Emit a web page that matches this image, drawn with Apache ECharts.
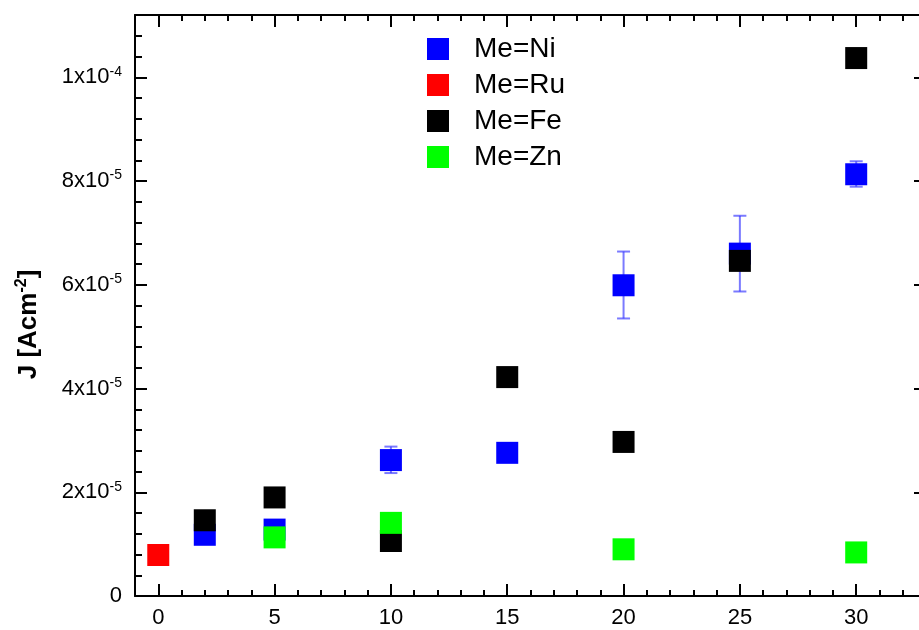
<!DOCTYPE html>
<html>
<head>
<meta charset="utf-8">
<script src="https://cdn.jsdelivr.net/npm/echarts@6/dist/echarts.min.js"></script>
<style>html,body{margin:0;padding:0;background:#fff;}#c{width:919px;height:630px;}</style>
</head>
<body>
<div id="c"></div>
<script>
// ---- data ----
var niX = [2, 5, 10, 15, 20, 25, 30];
var niY = [1.18e-5, 1.28e-5, 2.62e-5, 2.76e-5, 5.99e-5, 6.60e-5, 8.13e-5];
var ruX = [0];
var ruY = [7.9e-6];
var feX = [2, 5, 10, 15, 20, 25, 30];
var feY = [1.46e-5, 1.90e-5, 1.06e-5, 4.22e-5, 2.97e-5, 6.46e-5, 1.037e-4];
var znX = [5, 10, 20, 30];
var znY = [1.13e-5, 1.41e-5, 0.90e-5, 0.84e-5];
// Ni error bars: x, low, high
var niErrX = [10, 20, 25, 30];
var niErrLow = [2.37e-5, 5.35e-5, 5.87e-5, 7.89e-5];
var niErrHigh = [2.88e-5, 6.64e-5, 7.33e-5, 8.38e-5];
var seriesNames = ['Me=Ni', 'Me=Ru', 'Me=Fe', 'Me=Zn'];
var xTickValues = [0, 5, 10, 15, 20, 25, 30];
var xMinorTickValues = [-1,0,1,2,3,4,5,6,7,8,9,10,11,12,13,14,15,16,17,18,19,20,21,22,23,24,25,26,27,28,29,30,31,32];
var yTickValues = [0, 2e-5, 4e-5, 6e-5, 8e-5, 1e-4];
var yTickLabels = ['0', '2x10{sup|-5}', '4x10{sup|-5}', '6x10{sup|-5}', '8x10{sup|-5}', '1x10{sup|-4}'];
var yMinorTickValues = [0.4e-5,0.8e-5,1.2e-5,1.6e-5,2.4e-5,2.8e-5,3.2e-5,3.6e-5,4.4e-5,4.8e-5,5.2e-5,5.6e-5,6.4e-5,6.8e-5,7.2e-5,7.6e-5,8.4e-5,8.8e-5,9.2e-5,9.6e-5,1.04e-4,1.08e-4];
var xMin = -1, xMax = 33, yMin = 0, yMax = 1.12e-4;
var yTitle = 'J [Acm{sup|-2}]';

function zip(a, b) { return a.map(function (v, i) { return [v, b[i]]; }); }

var FONT = 'Liberation Sans, Arial, sans-serif';
var lineStyle = { color: '#000', width: 2 };

function xAxisDef(pos, major, showLine) {
  return {
    type: 'value', position: pos, min: xMin, max: xMax,
    axisLine: { show: showLine, onZero: false, lineStyle: lineStyle },
    axisTick: { show: true, inside: true, length: major ? 12 : 6, lineStyle: lineStyle,
      customValues: major ? xTickValues : xMinorTickValues },
    axisLabel: (pos === 'bottom' && major) ? {
      show: true, customValues: xTickValues, fontSize: 22, color: '#000', fontFamily: FONT, margin: 11
    } : { show: false },
    splitLine: { show: false }
  };
}
function yAxisDef(pos, major, showLine) {
  var d = {
    type: 'value', position: pos, min: yMin, max: yMax,
    axisLine: { show: showLine, onZero: false, lineStyle: lineStyle },
    axisTick: { show: true, inside: true, length: major ? 12 : 7, lineStyle: lineStyle,
      customValues: major ? yTickValues : yMinorTickValues },
    axisLabel: { show: false },
    splitLine: { show: false }
  };
  if (pos === 'left' && major) {
    d.axisLabel = {
      show: true, customValues: yTickValues, color: '#000', fontFamily: FONT, fontSize: 22, margin: 13,
      formatter: function (v) {
        for (var i = 0; i < yTickValues.length; i++) {
          if (Math.abs(yTickValues[i] - v) < 1e-9) return yTickLabels[i];
        }
        return '';
      },
      rich: { sup: { fontSize: 14, fontFamily: FONT, color: '#000', padding: [0, 0, 11, 0] } }
    };
    d.name = yTitle;
    d.nameLocation = 'middle';
    d.nameGap = 92;
    d.nameTextStyle = {
      fontSize: 26, fontWeight: 'bold', color: '#000', fontFamily: FONT, padding: [0, 38, 0, 0],
      rich: { sup: { fontSize: 16, fontWeight: 'bold', fontFamily: FONT, color: '#000', padding: [0, 0, 13, 0] } }
    };
  }
  return d;
}

var chart = echarts.init(document.getElementById('c'), null, { renderer: 'canvas' });
var sq = 22;
chart.setOption({
  animation: false,
  backgroundColor: '#fff',
  grid: { left: 135, top: 15, width: 791, height: 581, containLabel: false, outerBoundsMode: 'none' },
  xAxis: [xAxisDef('bottom', true, true), xAxisDef('bottom', false, false), xAxisDef('top', true, true), xAxisDef('top', false, false)],
  yAxis: [yAxisDef('left', true, true), yAxisDef('left', false, false), yAxisDef('right', true, true), yAxisDef('right', false, false)],
  legend: {
    orient: 'vertical', left: 422, top: 30, itemWidth: 22, itemHeight: 22, itemGap: 8,
    selectedMode: false, icon: 'rect',
    data: seriesNames,
    textStyle: { fontSize: 28, color: '#000', fontFamily: FONT, padding: [0, 0, 0, 20] }
  },
  series: [
    {
      type: 'custom', name: 'err', xAxisIndex: 0, yAxisIndex: 0, z: 1, silent: true,
      data: niErrX.map(function (x, i) { return [x, niErrLow[i], niErrHigh[i]]; }),
      renderItem: function (params, api) {
        var lo = api.coord([api.value(0), api.value(1)]);
        var hi = api.coord([api.value(0), api.value(2)]);
        var hw = 6.5;
        var st = { stroke: 'rgba(50,50,255,0.65)', lineWidth: 2 };
        return { type: 'group', children: [
          { type: 'line', shape: { x1: lo[0], y1: lo[1], x2: hi[0], y2: hi[1] }, style: st },
          { type: 'line', shape: { x1: lo[0] - hw, y1: lo[1], x2: lo[0] + hw, y2: lo[1] }, style: st },
          { type: 'line', shape: { x1: hi[0] - hw, y1: hi[1], x2: hi[0] + hw, y2: hi[1] }, style: st }
        ] };
      }
    },
    { type: 'scatter', name: seriesNames[0], symbol: 'rect', symbolSize: sq, z: 2, itemStyle: { color: '#0000ff', opacity: 1 }, data: zip(niX, niY) },
    { type: 'scatter', name: seriesNames[1], symbol: 'rect', symbolSize: sq, z: 3, itemStyle: { color: '#ff0000', opacity: 1 }, data: zip(ruX, ruY) },
    { type: 'scatter', name: seriesNames[2], symbol: 'rect', symbolSize: sq, z: 4, itemStyle: { color: '#000000', opacity: 1 }, data: zip(feX, feY) },
    { type: 'scatter', name: seriesNames[3], symbol: 'rect', symbolSize: sq, z: 5, itemStyle: { color: '#00ff00', opacity: 1 }, data: zip(znX, znY) }
  ]
});
</script>
</body>
</html>
